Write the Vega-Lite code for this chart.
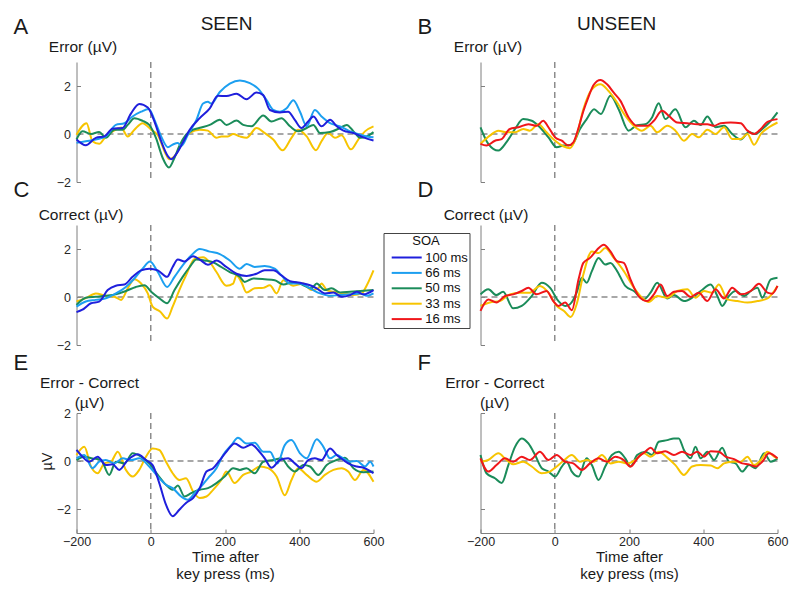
{
"$schema":"https://vega.github.io/schema/vega-lite/v6.json",
"padding":{"left":12.5,"top":14,"right":5,"bottom":5},
"config":{"font":"Liberation Sans","view":{"stroke":null},
"axis":{"domainColor":"#7f7f7f","tickColor":"#7f7f7f","labelColor":"#262626","titleColor":"#1a1a1a","labelFontSize":12.5,"titleFontSize":15.5,"titleFontWeight":"normal","grid":false,"tickSize":-4,"labelPadding":10,"labelFlush":false,"labelOverlap":false},
"legend":{"orient":"none","strokeColor":"#444444","fillColor":"white","padding":1.5,"titleFontSize":13,"titleFontWeight":"normal","titleAnchor":"middle","labelFontSize":13,"symbolType":"M-3,0H3","symbolSize":100,"symbolStrokeWidth":2,"symbolOffset":15.2,"labelOffset":12,"rowPadding":1.4,"titlePadding":3.5,"labelColor":"#111111","titleColor":"#111111"}},
"data":{"values":[
{"p":"A","s":"33 ms","t":-200,"v":-0.03},{"p":"A","s":"33 ms","t":-173,"v":0.45},{"p":"A","s":"33 ms","t":-157,"v":-0.3},{"p":"A","s":"33 ms","t":-139,"v":-0.41},{"p":"A","s":"33 ms","t":-121,"v":-0.1},{"p":"A","s":"33 ms","t":-94,"v":0.18},{"p":"A","s":"33 ms","t":-80,"v":0.27},{"p":"A","s":"33 ms","t":-62,"v":-0.1},{"p":"A","s":"33 ms","t":-44,"v":0.18},{"p":"A","s":"33 ms","t":-22,"v":0.45},{"p":"A","s":"33 ms","t":1,"v":0.18},{"p":"A","s":"33 ms","t":19,"v":-0.05},{"p":"A","s":"33 ms","t":41,"v":-0.85},{"p":"A","s":"33 ms","t":50,"v":-1.05},{"p":"A","s":"33 ms","t":68,"v":-0.85},{"p":"A","s":"33 ms","t":86,"v":-0.3},{"p":"A","s":"33 ms","t":105,"v":0.04},{"p":"A","s":"33 ms","t":132,"v":0.18},{"p":"A","s":"33 ms","t":154,"v":0.14},{"p":"A","s":"33 ms","t":177,"v":-0.16},{"p":"A","s":"33 ms","t":190,"v":-0.1},{"p":"A","s":"33 ms","t":208,"v":-0.1},{"p":"A","s":"33 ms","t":222,"v":0.0},{"p":"A","s":"33 ms","t":240,"v":-0.1},{"p":"A","s":"33 ms","t":258,"v":-0.16},{"p":"A","s":"33 ms","t":285,"v":0.25},{"p":"A","s":"33 ms","t":307,"v":0.04},{"p":"A","s":"33 ms","t":330,"v":-0.23},{"p":"A","s":"33 ms","t":355,"v":-0.68},{"p":"A","s":"33 ms","t":379,"v":-0.16},{"p":"A","s":"33 ms","t":397,"v":0.18},{"p":"A","s":"33 ms","t":420,"v":-0.1},{"p":"A","s":"33 ms","t":445,"v":-0.68},{"p":"A","s":"33 ms","t":460,"v":-0.3},{"p":"A","s":"33 ms","t":478,"v":0.04},{"p":"A","s":"33 ms","t":496,"v":-0.16},{"p":"A","s":"33 ms","t":514,"v":-0.05},{"p":"A","s":"33 ms","t":539,"v":-0.64},{"p":"A","s":"33 ms","t":559,"v":-0.23},{"p":"A","s":"33 ms","t":577,"v":0.11},{"p":"A","s":"33 ms","t":600,"v":0.32},
{"p":"A","s":"50 ms","t":-200,"v":-0.23},{"p":"A","s":"50 ms","t":-184,"v":0.11},{"p":"A","s":"50 ms","t":-161,"v":0.0},{"p":"A","s":"50 ms","t":-139,"v":0.08},{"p":"A","s":"50 ms","t":-121,"v":-0.16},{"p":"A","s":"50 ms","t":-98,"v":0.18},{"p":"A","s":"50 ms","t":-76,"v":0.18},{"p":"A","s":"50 ms","t":-62,"v":0.38},{"p":"A","s":"50 ms","t":-44,"v":0.66},{"p":"A","s":"50 ms","t":-22,"v":0.55},{"p":"A","s":"50 ms","t":-4,"v":0.38},{"p":"A","s":"50 ms","t":14,"v":-0.16},{"p":"A","s":"50 ms","t":32,"v":-0.99},{"p":"A","s":"50 ms","t":49,"v":-1.4},{"p":"A","s":"50 ms","t":64,"v":-0.99},{"p":"A","s":"50 ms","t":77,"v":-0.5},{"p":"A","s":"50 ms","t":95,"v":-0.03},{"p":"A","s":"50 ms","t":114,"v":0.18},{"p":"A","s":"50 ms","t":136,"v":0.27},{"p":"A","s":"50 ms","t":159,"v":0.38},{"p":"A","s":"50 ms","t":186,"v":0.59},{"p":"A","s":"50 ms","t":204,"v":0.38},{"p":"A","s":"50 ms","t":231,"v":0.56},{"p":"A","s":"50 ms","t":249,"v":0.38},{"p":"A","s":"50 ms","t":271,"v":0.32},{"p":"A","s":"50 ms","t":303,"v":0.77},{"p":"A","s":"50 ms","t":325,"v":0.52},{"p":"A","s":"50 ms","t":352,"v":0.66},{"p":"A","s":"50 ms","t":375,"v":0.32},{"p":"A","s":"50 ms","t":397,"v":0.11},{"p":"A","s":"50 ms","t":420,"v":0.25},{"p":"A","s":"50 ms","t":438,"v":0.38},{"p":"A","s":"50 ms","t":456,"v":0.04},{"p":"A","s":"50 ms","t":483,"v":0.08},{"p":"A","s":"50 ms","t":510,"v":0.25},{"p":"A","s":"50 ms","t":528,"v":0.38},{"p":"A","s":"50 ms","t":546,"v":0.11},{"p":"A","s":"50 ms","t":564,"v":-0.16},{"p":"A","s":"50 ms","t":582,"v":-0.1},{"p":"A","s":"50 ms","t":600,"v":0.08},
{"p":"A","s":"66 ms","t":-200,"v":-0.37},{"p":"A","s":"66 ms","t":-175,"v":-0.3},{"p":"A","s":"66 ms","t":-148,"v":-0.23},{"p":"A","s":"66 ms","t":-121,"v":-0.1},{"p":"A","s":"66 ms","t":-94,"v":0.38},{"p":"A","s":"66 ms","t":-71,"v":0.45},{"p":"A","s":"66 ms","t":-49,"v":0.73},{"p":"A","s":"66 ms","t":-26,"v":0.93},{"p":"A","s":"66 ms","t":-5,"v":1.04},{"p":"A","s":"66 ms","t":10,"v":0.59},{"p":"A","s":"66 ms","t":28,"v":-0.1},{"p":"A","s":"66 ms","t":46,"v":-0.55},{"p":"A","s":"66 ms","t":59,"v":-0.44},{"p":"A","s":"66 ms","t":73,"v":-0.37},{"p":"A","s":"66 ms","t":82,"v":-0.5},{"p":"A","s":"66 ms","t":100,"v":-0.03},{"p":"A","s":"66 ms","t":123,"v":0.59},{"p":"A","s":"66 ms","t":141,"v":1.27},{"p":"A","s":"66 ms","t":154,"v":1.34},{"p":"A","s":"66 ms","t":163,"v":1.27},{"p":"A","s":"66 ms","t":186,"v":1.75},{"p":"A","s":"66 ms","t":213,"v":2.1},{"p":"A","s":"66 ms","t":240,"v":2.23},{"p":"A","s":"66 ms","t":267,"v":2.12},{"p":"A","s":"66 ms","t":289,"v":1.89},{"p":"A","s":"66 ms","t":312,"v":1.41},{"p":"A","s":"66 ms","t":330,"v":1.0},{"p":"A","s":"66 ms","t":348,"v":0.93},{"p":"A","s":"66 ms","t":366,"v":1.07},{"p":"A","s":"66 ms","t":384,"v":1.41},{"p":"A","s":"66 ms","t":402,"v":0.93},{"p":"A","s":"66 ms","t":420,"v":0.32},{"p":"A","s":"66 ms","t":442,"v":1.0},{"p":"A","s":"66 ms","t":460,"v":0.73},{"p":"A","s":"66 ms","t":483,"v":0.45},{"p":"A","s":"66 ms","t":510,"v":0.32},{"p":"A","s":"66 ms","t":537,"v":0.11},{"p":"A","s":"66 ms","t":564,"v":-0.03},{"p":"A","s":"66 ms","t":582,"v":-0.1},{"p":"A","s":"66 ms","t":600,"v":-0.14},
{"p":"A","s":"100 ms","t":-200,"v":-0.23},{"p":"A","s":"100 ms","t":-175,"v":-0.47},{"p":"A","s":"100 ms","t":-148,"v":-0.16},{"p":"A","s":"100 ms","t":-125,"v":-0.1},{"p":"A","s":"100 ms","t":-103,"v":0.22},{"p":"A","s":"100 ms","t":-76,"v":0.25},{"p":"A","s":"100 ms","t":-53,"v":0.86},{"p":"A","s":"100 ms","t":-31,"v":1.25},{"p":"A","s":"100 ms","t":-8,"v":1.1},{"p":"A","s":"100 ms","t":10,"v":0.52},{"p":"A","s":"100 ms","t":28,"v":-0.3},{"p":"A","s":"100 ms","t":46,"v":-0.92},{"p":"A","s":"100 ms","t":55,"v":-1.05},{"p":"A","s":"100 ms","t":68,"v":-0.85},{"p":"A","s":"100 ms","t":86,"v":-0.37},{"p":"A","s":"100 ms","t":105,"v":0.18},{"p":"A","s":"100 ms","t":132,"v":0.66},{"p":"A","s":"100 ms","t":159,"v":1.07},{"p":"A","s":"100 ms","t":181,"v":1.59},{"p":"A","s":"100 ms","t":204,"v":1.58},{"p":"A","s":"100 ms","t":231,"v":1.68},{"p":"A","s":"100 ms","t":258,"v":1.45},{"p":"A","s":"100 ms","t":285,"v":1.73},{"p":"A","s":"100 ms","t":303,"v":1.62},{"p":"A","s":"100 ms","t":321,"v":1.0},{"p":"A","s":"100 ms","t":348,"v":0.9},{"p":"A","s":"100 ms","t":370,"v":0.93},{"p":"A","s":"100 ms","t":388,"v":0.59},{"p":"A","s":"100 ms","t":406,"v":0.25},{"p":"A","s":"100 ms","t":424,"v":0.52},{"p":"A","s":"100 ms","t":438,"v":0.73},{"p":"A","s":"100 ms","t":460,"v":0.32},{"p":"A","s":"100 ms","t":483,"v":0.59},{"p":"A","s":"100 ms","t":501,"v":0.32},{"p":"A","s":"100 ms","t":519,"v":0.14},{"p":"A","s":"100 ms","t":546,"v":0.04},{"p":"A","s":"100 ms","t":573,"v":-0.14},{"p":"A","s":"100 ms","t":600,"v":-0.27},
{"p":"B","s":"50 ms","t":-200,"v":0.28},{"p":"B","s":"50 ms","t":-179,"v":-0.41},{"p":"B","s":"50 ms","t":-152,"v":-0.69},{"p":"B","s":"50 ms","t":-130,"v":-0.34},{"p":"B","s":"50 ms","t":-107,"v":0.21},{"p":"B","s":"50 ms","t":-85,"v":0.62},{"p":"B","s":"50 ms","t":-62,"v":0.55},{"p":"B","s":"50 ms","t":-40,"v":0.28},{"p":"B","s":"50 ms","t":-17,"v":-0.14},{"p":"B","s":"50 ms","t":5,"v":-0.55},{"p":"B","s":"50 ms","t":23,"v":-0.48},{"p":"B","s":"50 ms","t":46,"v":-0.45},{"p":"B","s":"50 ms","t":68,"v":0.21},{"p":"B","s":"50 ms","t":86,"v":0.62},{"p":"B","s":"50 ms","t":106,"v":1.03},{"p":"B","s":"50 ms","t":124,"v":0.83},{"p":"B","s":"50 ms","t":150,"v":1.59},{"p":"B","s":"50 ms","t":172,"v":1.03},{"p":"B","s":"50 ms","t":199,"v":0.14},{"p":"B","s":"50 ms","t":222,"v":0.37},{"p":"B","s":"50 ms","t":244,"v":0.41},{"p":"B","s":"50 ms","t":262,"v":0.69},{"p":"B","s":"50 ms","t":280,"v":1.28},{"p":"B","s":"50 ms","t":298,"v":0.62},{"p":"B","s":"50 ms","t":325,"v":1.03},{"p":"B","s":"50 ms","t":352,"v":0.28},{"p":"B","s":"50 ms","t":375,"v":0.55},{"p":"B","s":"50 ms","t":393,"v":0.37},{"p":"B","s":"50 ms","t":411,"v":0.73},{"p":"B","s":"50 ms","t":433,"v":0.28},{"p":"B","s":"50 ms","t":456,"v":0.34},{"p":"B","s":"50 ms","t":478,"v":0.0},{"p":"B","s":"50 ms","t":501,"v":-0.23},{"p":"B","s":"50 ms","t":523,"v":0.07},{"p":"B","s":"50 ms","t":541,"v":0.0},{"p":"B","s":"50 ms","t":559,"v":0.21},{"p":"B","s":"50 ms","t":582,"v":0.55},{"p":"B","s":"50 ms","t":600,"v":0.9},
{"p":"B","s":"33 ms","t":-200,"v":-0.41},{"p":"B","s":"33 ms","t":-175,"v":-0.07},{"p":"B","s":"33 ms","t":-152,"v":0.14},{"p":"B","s":"33 ms","t":-130,"v":0.07},{"p":"B","s":"33 ms","t":-107,"v":0.07},{"p":"B","s":"33 ms","t":-85,"v":0.21},{"p":"B","s":"33 ms","t":-67,"v":0.14},{"p":"B","s":"33 ms","t":-44,"v":0.41},{"p":"B","s":"33 ms","t":-22,"v":0.07},{"p":"B","s":"33 ms","t":1,"v":-0.28},{"p":"B","s":"33 ms","t":23,"v":-0.51},{"p":"B","s":"33 ms","t":41,"v":-0.59},{"p":"B","s":"33 ms","t":59,"v":-0.07},{"p":"B","s":"33 ms","t":77,"v":1.03},{"p":"B","s":"33 ms","t":100,"v":1.86},{"p":"B","s":"33 ms","t":123,"v":2.07},{"p":"B","s":"33 ms","t":145,"v":1.79},{"p":"B","s":"33 ms","t":168,"v":1.31},{"p":"B","s":"33 ms","t":190,"v":0.76},{"p":"B","s":"33 ms","t":213,"v":0.34},{"p":"B","s":"33 ms","t":235,"v":0.14},{"p":"B","s":"33 ms","t":258,"v":0.34},{"p":"B","s":"33 ms","t":276,"v":0.07},{"p":"B","s":"33 ms","t":303,"v":0.34},{"p":"B","s":"33 ms","t":325,"v":0.14},{"p":"B","s":"33 ms","t":348,"v":-0.28},{"p":"B","s":"33 ms","t":370,"v":0.0},{"p":"B","s":"33 ms","t":388,"v":-0.14},{"p":"B","s":"33 ms","t":411,"v":0.18},{"p":"B","s":"33 ms","t":433,"v":0.0},{"p":"B","s":"33 ms","t":456,"v":0.28},{"p":"B","s":"33 ms","t":478,"v":-0.21},{"p":"B","s":"33 ms","t":501,"v":-0.21},{"p":"B","s":"33 ms","t":519,"v":0.0},{"p":"B","s":"33 ms","t":537,"v":-0.45},{"p":"B","s":"33 ms","t":555,"v":0.0},{"p":"B","s":"33 ms","t":577,"v":0.28},{"p":"B","s":"33 ms","t":600,"v":0.48},
{"p":"B","s":"16 ms","t":-200,"v":-0.41},{"p":"B","s":"16 ms","t":-184,"v":-0.48},{"p":"B","s":"16 ms","t":-161,"v":-0.28},{"p":"B","s":"16 ms","t":-143,"v":-0.21},{"p":"B","s":"16 ms","t":-121,"v":0.21},{"p":"B","s":"16 ms","t":-98,"v":0.28},{"p":"B","s":"16 ms","t":-71,"v":0.41},{"p":"B","s":"16 ms","t":-49,"v":0.34},{"p":"B","s":"16 ms","t":-31,"v":0.55},{"p":"B","s":"16 ms","t":-17,"v":0.28},{"p":"B","s":"16 ms","t":1,"v":-0.14},{"p":"B","s":"16 ms","t":19,"v":-0.28},{"p":"B","s":"16 ms","t":37,"v":-0.48},{"p":"B","s":"16 ms","t":50,"v":-0.35},{"p":"B","s":"16 ms","t":64,"v":0.25},{"p":"B","s":"16 ms","t":77,"v":0.95},{"p":"B","s":"16 ms","t":91,"v":1.55},{"p":"B","s":"16 ms","t":105,"v":2.05},{"p":"B","s":"16 ms","t":123,"v":2.25},{"p":"B","s":"16 ms","t":141,"v":2.07},{"p":"B","s":"16 ms","t":159,"v":1.72},{"p":"B","s":"16 ms","t":177,"v":1.38},{"p":"B","s":"16 ms","t":199,"v":0.69},{"p":"B","s":"16 ms","t":222,"v":0.34},{"p":"B","s":"16 ms","t":249,"v":0.34},{"p":"B","s":"16 ms","t":267,"v":0.55},{"p":"B","s":"16 ms","t":289,"v":0.97},{"p":"B","s":"16 ms","t":307,"v":0.76},{"p":"B","s":"16 ms","t":330,"v":0.48},{"p":"B","s":"16 ms","t":357,"v":0.45},{"p":"B","s":"16 ms","t":384,"v":0.41},{"p":"B","s":"16 ms","t":411,"v":0.41},{"p":"B","s":"16 ms","t":429,"v":0.34},{"p":"B","s":"16 ms","t":447,"v":0.45},{"p":"B","s":"16 ms","t":474,"v":0.48},{"p":"B","s":"16 ms","t":501,"v":0.45},{"p":"B","s":"16 ms","t":519,"v":0.14},{"p":"B","s":"16 ms","t":537,"v":0.0},{"p":"B","s":"16 ms","t":555,"v":0.21},{"p":"B","s":"16 ms","t":573,"v":0.51},{"p":"B","s":"16 ms","t":600,"v":0.62},
{"p":"C","s":"33 ms","t":-200,"v":-0.19},{"p":"C","s":"33 ms","t":-175,"v":-0.05},{"p":"C","s":"33 ms","t":-148,"v":0.15},{"p":"C","s":"33 ms","t":-121,"v":0.05},{"p":"C","s":"33 ms","t":-98,"v":0.01},{"p":"C","s":"33 ms","t":-80,"v":-0.12},{"p":"C","s":"33 ms","t":-62,"v":0.36},{"p":"C","s":"33 ms","t":-44,"v":0.74},{"p":"C","s":"33 ms","t":-26,"v":0.56},{"p":"C","s":"33 ms","t":-8,"v":0.15},{"p":"C","s":"33 ms","t":5,"v":-0.4},{"p":"C","s":"33 ms","t":25,"v":-0.6},{"p":"C","s":"33 ms","t":44,"v":-0.9},{"p":"C","s":"33 ms","t":59,"v":-0.4},{"p":"C","s":"33 ms","t":77,"v":0.29},{"p":"C","s":"33 ms","t":95,"v":0.9},{"p":"C","s":"33 ms","t":118,"v":1.59},{"p":"C","s":"33 ms","t":141,"v":1.66},{"p":"C","s":"33 ms","t":159,"v":1.45},{"p":"C","s":"33 ms","t":177,"v":1.04},{"p":"C","s":"33 ms","t":204,"v":0.47},{"p":"C","s":"33 ms","t":222,"v":0.56},{"p":"C","s":"33 ms","t":231,"v":0.9},{"p":"C","s":"33 ms","t":244,"v":0.63},{"p":"C","s":"33 ms","t":258,"v":0.19},{"p":"C","s":"33 ms","t":280,"v":0.36},{"p":"C","s":"33 ms","t":303,"v":0.38},{"p":"C","s":"33 ms","t":321,"v":0.49},{"p":"C","s":"33 ms","t":339,"v":0.15},{"p":"C","s":"33 ms","t":357,"v":0.7},{"p":"C","s":"33 ms","t":384,"v":0.47},{"p":"C","s":"33 ms","t":411,"v":0.56},{"p":"C","s":"33 ms","t":433,"v":0.29},{"p":"C","s":"33 ms","t":451,"v":0.36},{"p":"C","s":"33 ms","t":460,"v":0.56},{"p":"C","s":"33 ms","t":474,"v":0.29},{"p":"C","s":"33 ms","t":492,"v":0.22},{"p":"C","s":"33 ms","t":519,"v":0.15},{"p":"C","s":"33 ms","t":546,"v":0.08},{"p":"C","s":"33 ms","t":568,"v":0.15},{"p":"C","s":"33 ms","t":582,"v":0.49},{"p":"C","s":"33 ms","t":600,"v":1.11},
{"p":"C","s":"50 ms","t":-200,"v":-0.33},{"p":"C","s":"50 ms","t":-175,"v":-0.03},{"p":"C","s":"50 ms","t":-148,"v":0.01},{"p":"C","s":"50 ms","t":-121,"v":0.05},{"p":"C","s":"50 ms","t":-94,"v":0.11},{"p":"C","s":"50 ms","t":-67,"v":0.25},{"p":"C","s":"50 ms","t":-40,"v":0.42},{"p":"C","s":"50 ms","t":-17,"v":0.49},{"p":"C","s":"50 ms","t":1,"v":0.22},{"p":"C","s":"50 ms","t":23,"v":-0.05},{"p":"C","s":"50 ms","t":44,"v":-0.26},{"p":"C","s":"50 ms","t":64,"v":0.29},{"p":"C","s":"50 ms","t":86,"v":0.84},{"p":"C","s":"50 ms","t":105,"v":1.25},{"p":"C","s":"50 ms","t":123,"v":1.56},{"p":"C","s":"50 ms","t":145,"v":1.52},{"p":"C","s":"50 ms","t":168,"v":1.45},{"p":"C","s":"50 ms","t":190,"v":1.25},{"p":"C","s":"50 ms","t":213,"v":1.04},{"p":"C","s":"50 ms","t":240,"v":0.84},{"p":"C","s":"50 ms","t":253,"v":0.63},{"p":"C","s":"50 ms","t":276,"v":0.77},{"p":"C","s":"50 ms","t":307,"v":0.74},{"p":"C","s":"50 ms","t":334,"v":0.7},{"p":"C","s":"50 ms","t":357,"v":0.52},{"p":"C","s":"50 ms","t":384,"v":0.63},{"p":"C","s":"50 ms","t":411,"v":0.49},{"p":"C","s":"50 ms","t":433,"v":0.36},{"p":"C","s":"50 ms","t":447,"v":0.56},{"p":"C","s":"50 ms","t":469,"v":0.29},{"p":"C","s":"50 ms","t":487,"v":0.36},{"p":"C","s":"50 ms","t":510,"v":0.19},{"p":"C","s":"50 ms","t":537,"v":0.22},{"p":"C","s":"50 ms","t":564,"v":0.25},{"p":"C","s":"50 ms","t":600,"v":0.29},
{"p":"C","s":"66 ms","t":-200,"v":-0.4},{"p":"C","s":"66 ms","t":-175,"v":-0.19},{"p":"C","s":"66 ms","t":-148,"v":-0.12},{"p":"C","s":"66 ms","t":-121,"v":-0.05},{"p":"C","s":"66 ms","t":-94,"v":0.15},{"p":"C","s":"66 ms","t":-67,"v":0.42},{"p":"C","s":"66 ms","t":-44,"v":0.77},{"p":"C","s":"66 ms","t":-22,"v":1.18},{"p":"C","s":"66 ms","t":-2,"v":1.48},{"p":"C","s":"66 ms","t":19,"v":1.04},{"p":"C","s":"66 ms","t":44,"v":0.42},{"p":"C","s":"66 ms","t":64,"v":0.84},{"p":"C","s":"66 ms","t":86,"v":1.32},{"p":"C","s":"66 ms","t":109,"v":1.73},{"p":"C","s":"66 ms","t":132,"v":2.0},{"p":"C","s":"66 ms","t":159,"v":1.89},{"p":"C","s":"66 ms","t":186,"v":1.79},{"p":"C","s":"66 ms","t":213,"v":1.52},{"p":"C","s":"66 ms","t":240,"v":1.18},{"p":"C","s":"66 ms","t":258,"v":1.38},{"p":"C","s":"66 ms","t":280,"v":1.25},{"p":"C","s":"66 ms","t":307,"v":1.29},{"p":"C","s":"66 ms","t":334,"v":1.18},{"p":"C","s":"66 ms","t":352,"v":0.9},{"p":"C","s":"66 ms","t":375,"v":0.56},{"p":"C","s":"66 ms","t":402,"v":0.56},{"p":"C","s":"66 ms","t":429,"v":0.36},{"p":"C","s":"66 ms","t":456,"v":0.15},{"p":"C","s":"66 ms","t":483,"v":0.05},{"p":"C","s":"66 ms","t":510,"v":0.08},{"p":"C","s":"66 ms","t":537,"v":0.11},{"p":"C","s":"66 ms","t":564,"v":0.15},{"p":"C","s":"66 ms","t":582,"v":0.05},{"p":"C","s":"66 ms","t":600,"v":0.15},
{"p":"C","s":"100 ms","t":-200,"v":-0.63},{"p":"C","s":"100 ms","t":-184,"v":-0.53},{"p":"C","s":"100 ms","t":-161,"v":-0.26},{"p":"C","s":"100 ms","t":-139,"v":-0.19},{"p":"C","s":"100 ms","t":-116,"v":0.29},{"p":"C","s":"100 ms","t":-94,"v":0.47},{"p":"C","s":"100 ms","t":-71,"v":0.52},{"p":"C","s":"100 ms","t":-49,"v":0.84},{"p":"C","s":"100 ms","t":-26,"v":1.11},{"p":"C","s":"100 ms","t":-4,"v":1.18},{"p":"C","s":"100 ms","t":19,"v":1.11},{"p":"C","s":"100 ms","t":44,"v":0.84},{"p":"C","s":"100 ms","t":59,"v":1.25},{"p":"C","s":"100 ms","t":73,"v":1.56},{"p":"C","s":"100 ms","t":91,"v":1.48},{"p":"C","s":"100 ms","t":114,"v":1.7},{"p":"C","s":"100 ms","t":136,"v":1.52},{"p":"C","s":"100 ms","t":154,"v":1.34},{"p":"C","s":"100 ms","t":177,"v":1.52},{"p":"C","s":"100 ms","t":204,"v":1.25},{"p":"C","s":"100 ms","t":231,"v":0.97},{"p":"C","s":"100 ms","t":258,"v":0.88},{"p":"C","s":"100 ms","t":285,"v":0.97},{"p":"C","s":"100 ms","t":307,"v":1.11},{"p":"C","s":"100 ms","t":330,"v":1.11},{"p":"C","s":"100 ms","t":352,"v":0.9},{"p":"C","s":"100 ms","t":375,"v":0.66},{"p":"C","s":"100 ms","t":402,"v":0.59},{"p":"C","s":"100 ms","t":429,"v":0.49},{"p":"C","s":"100 ms","t":447,"v":0.36},{"p":"C","s":"100 ms","t":469,"v":0.15},{"p":"C","s":"100 ms","t":492,"v":0.19},{"p":"C","s":"100 ms","t":514,"v":0.01},{"p":"C","s":"100 ms","t":537,"v":0.08},{"p":"C","s":"100 ms","t":555,"v":0.22},{"p":"C","s":"100 ms","t":573,"v":0.11},{"p":"C","s":"100 ms","t":600,"v":0.29},
{"p":"D","s":"50 ms","t":-200,"v":0.11},{"p":"D","s":"50 ms","t":-179,"v":0.32},{"p":"D","s":"50 ms","t":-157,"v":0.08},{"p":"D","s":"50 ms","t":-139,"v":0.22},{"p":"D","s":"50 ms","t":-112,"v":-0.47},{"p":"D","s":"50 ms","t":-89,"v":-0.37},{"p":"D","s":"50 ms","t":-62,"v":0.04},{"p":"D","s":"50 ms","t":-35,"v":0.59},{"p":"D","s":"50 ms","t":-13,"v":0.39},{"p":"D","s":"50 ms","t":10,"v":-0.17},{"p":"D","s":"50 ms","t":28,"v":-0.37},{"p":"D","s":"50 ms","t":41,"v":-0.3},{"p":"D","s":"50 ms","t":59,"v":0.18},{"p":"D","s":"50 ms","t":73,"v":0.8},{"p":"D","s":"50 ms","t":86,"v":0.59},{"p":"D","s":"50 ms","t":100,"v":1.08},{"p":"D","s":"50 ms","t":118,"v":1.63},{"p":"D","s":"50 ms","t":136,"v":1.35},{"p":"D","s":"50 ms","t":150,"v":1.42},{"p":"D","s":"50 ms","t":168,"v":1.08},{"p":"D","s":"50 ms","t":190,"v":0.46},{"p":"D","s":"50 ms","t":213,"v":0.25},{"p":"D","s":"50 ms","t":240,"v":-0.1},{"p":"D","s":"50 ms","t":258,"v":0.18},{"p":"D","s":"50 ms","t":276,"v":0.59},{"p":"D","s":"50 ms","t":303,"v":-0.06},{"p":"D","s":"50 ms","t":321,"v":0.08},{"p":"D","s":"50 ms","t":348,"v":-0.17},{"p":"D","s":"50 ms","t":370,"v":-0.03},{"p":"D","s":"50 ms","t":393,"v":0.25},{"p":"D","s":"50 ms","t":420,"v":0.52},{"p":"D","s":"50 ms","t":438,"v":0.04},{"p":"D","s":"50 ms","t":451,"v":-0.37},{"p":"D","s":"50 ms","t":469,"v":0.04},{"p":"D","s":"50 ms","t":487,"v":0.25},{"p":"D","s":"50 ms","t":510,"v":0.04},{"p":"D","s":"50 ms","t":528,"v":0.25},{"p":"D","s":"50 ms","t":546,"v":0.39},{"p":"D","s":"50 ms","t":559,"v":-0.03},{"p":"D","s":"50 ms","t":582,"v":0.73},{"p":"D","s":"50 ms","t":600,"v":0.8},
{"p":"D","s":"33 ms","t":-200,"v":-0.37},{"p":"D","s":"33 ms","t":-175,"v":-0.23},{"p":"D","s":"33 ms","t":-148,"v":-0.17},{"p":"D","s":"33 ms","t":-121,"v":0.11},{"p":"D","s":"33 ms","t":-94,"v":0.18},{"p":"D","s":"33 ms","t":-67,"v":0.18},{"p":"D","s":"33 ms","t":-40,"v":0.46},{"p":"D","s":"33 ms","t":-17,"v":0.18},{"p":"D","s":"33 ms","t":5,"v":-0.37},{"p":"D","s":"33 ms","t":25,"v":-0.58},{"p":"D","s":"33 ms","t":43,"v":-0.83},{"p":"D","s":"33 ms","t":59,"v":-0.3},{"p":"D","s":"33 ms","t":77,"v":0.94},{"p":"D","s":"33 ms","t":100,"v":1.9},{"p":"D","s":"33 ms","t":118,"v":1.83},{"p":"D","s":"33 ms","t":136,"v":2.04},{"p":"D","s":"33 ms","t":159,"v":1.63},{"p":"D","s":"33 ms","t":186,"v":1.08},{"p":"D","s":"33 ms","t":213,"v":0.39},{"p":"D","s":"33 ms","t":235,"v":-0.03},{"p":"D","s":"33 ms","t":253,"v":-0.21},{"p":"D","s":"33 ms","t":276,"v":0.04},{"p":"D","s":"33 ms","t":303,"v":-0.03},{"p":"D","s":"33 ms","t":330,"v":0.25},{"p":"D","s":"33 ms","t":357,"v":0.32},{"p":"D","s":"33 ms","t":379,"v":-0.03},{"p":"D","s":"33 ms","t":402,"v":0.25},{"p":"D","s":"33 ms","t":424,"v":0.18},{"p":"D","s":"33 ms","t":442,"v":0.52},{"p":"D","s":"33 ms","t":465,"v":-0.1},{"p":"D","s":"33 ms","t":492,"v":-0.17},{"p":"D","s":"33 ms","t":519,"v":-0.23},{"p":"D","s":"33 ms","t":546,"v":-0.17},{"p":"D","s":"33 ms","t":573,"v":-0.06},{"p":"D","s":"33 ms","t":600,"v":0.46},
{"p":"D","s":"16 ms","t":-200,"v":-0.58},{"p":"D","s":"16 ms","t":-179,"v":-0.1},{"p":"D","s":"16 ms","t":-157,"v":-0.23},{"p":"D","s":"16 ms","t":-134,"v":0.04},{"p":"D","s":"16 ms","t":-112,"v":0.11},{"p":"D","s":"16 ms","t":-89,"v":0.25},{"p":"D","s":"16 ms","t":-71,"v":0.39},{"p":"D","s":"16 ms","t":-49,"v":0.11},{"p":"D","s":"16 ms","t":-22,"v":0.25},{"p":"D","s":"16 ms","t":-4,"v":-0.17},{"p":"D","s":"16 ms","t":10,"v":-0.37},{"p":"D","s":"16 ms","t":28,"v":-0.23},{"p":"D","s":"16 ms","t":46,"v":-0.55},{"p":"D","s":"16 ms","t":64,"v":0.73},{"p":"D","s":"16 ms","t":77,"v":1.42},{"p":"D","s":"16 ms","t":95,"v":1.63},{"p":"D","s":"16 ms","t":114,"v":1.97},{"p":"D","s":"16 ms","t":132,"v":2.18},{"p":"D","s":"16 ms","t":150,"v":1.9},{"p":"D","s":"16 ms","t":168,"v":1.49},{"p":"D","s":"16 ms","t":186,"v":1.42},{"p":"D","s":"16 ms","t":204,"v":0.73},{"p":"D","s":"16 ms","t":226,"v":0.04},{"p":"D","s":"16 ms","t":249,"v":-0.17},{"p":"D","s":"16 ms","t":267,"v":0.11},{"p":"D","s":"16 ms","t":285,"v":0.52},{"p":"D","s":"16 ms","t":303,"v":0.04},{"p":"D","s":"16 ms","t":321,"v":0.22},{"p":"D","s":"16 ms","t":343,"v":0.25},{"p":"D","s":"16 ms","t":366,"v":0.0},{"p":"D","s":"16 ms","t":388,"v":0.18},{"p":"D","s":"16 ms","t":411,"v":-0.17},{"p":"D","s":"16 ms","t":433,"v":0.32},{"p":"D","s":"16 ms","t":456,"v":-0.06},{"p":"D","s":"16 ms","t":478,"v":0.39},{"p":"D","s":"16 ms","t":501,"v":0.11},{"p":"D","s":"16 ms","t":528,"v":0.25},{"p":"D","s":"16 ms","t":550,"v":0.55},{"p":"D","s":"16 ms","t":573,"v":0.18},{"p":"D","s":"16 ms","t":586,"v":0.14},{"p":"D","s":"16 ms","t":600,"v":0.46},
{"p":"E","s":"33 ms","t":-200,"v":0.25},{"p":"E","s":"33 ms","t":-179,"v":0.59},{"p":"E","s":"33 ms","t":-161,"v":-0.23},{"p":"E","s":"33 ms","t":-143,"v":-0.51},{"p":"E","s":"33 ms","t":-125,"v":-0.1},{"p":"E","s":"33 ms","t":-107,"v":-0.03},{"p":"E","s":"33 ms","t":-89,"v":0.39},{"p":"E","s":"33 ms","t":-67,"v":-0.37},{"p":"E","s":"33 ms","t":-49,"v":-0.65},{"p":"E","s":"33 ms","t":-31,"v":-0.37},{"p":"E","s":"33 ms","t":-13,"v":0.18},{"p":"E","s":"33 ms","t":5,"v":0.52},{"p":"E","s":"33 ms","t":23,"v":0.46},{"p":"E","s":"33 ms","t":41,"v":-0.03},{"p":"E","s":"33 ms","t":59,"v":-0.51},{"p":"E","s":"33 ms","t":77,"v":-0.79},{"p":"E","s":"33 ms","t":95,"v":-0.72},{"p":"E","s":"33 ms","t":114,"v":-1.27},{"p":"E","s":"33 ms","t":132,"v":-1.54},{"p":"E","s":"33 ms","t":150,"v":-1.48},{"p":"E","s":"33 ms","t":168,"v":-1.2},{"p":"E","s":"33 ms","t":190,"v":-0.79},{"p":"E","s":"33 ms","t":204,"v":-0.44},{"p":"E","s":"33 ms","t":226,"v":-0.92},{"p":"E","s":"33 ms","t":249,"v":-0.58},{"p":"E","s":"33 ms","t":271,"v":-0.44},{"p":"E","s":"33 ms","t":294,"v":-0.23},{"p":"E","s":"33 ms","t":316,"v":-0.3},{"p":"E","s":"33 ms","t":339,"v":-0.65},{"p":"E","s":"33 ms","t":361,"v":-1.43},{"p":"E","s":"33 ms","t":379,"v":-0.79},{"p":"E","s":"33 ms","t":397,"v":-0.3},{"p":"E","s":"33 ms","t":420,"v":-0.58},{"p":"E","s":"33 ms","t":447,"v":-0.86},{"p":"E","s":"33 ms","t":469,"v":-0.58},{"p":"E","s":"33 ms","t":492,"v":-0.37},{"p":"E","s":"33 ms","t":514,"v":-0.3},{"p":"E","s":"33 ms","t":532,"v":-0.44},{"p":"E","s":"33 ms","t":550,"v":-0.79},{"p":"E","s":"33 ms","t":573,"v":-0.37},{"p":"E","s":"33 ms","t":600,"v":-0.86},
{"p":"E","s":"50 ms","t":-200,"v":0.04},{"p":"E","s":"50 ms","t":-179,"v":0.18},{"p":"E","s":"50 ms","t":-157,"v":0.11},{"p":"E","s":"50 ms","t":-134,"v":0.04},{"p":"E","s":"50 ms","t":-112,"v":-0.58},{"p":"E","s":"50 ms","t":-94,"v":-0.03},{"p":"E","s":"50 ms","t":-71,"v":-0.1},{"p":"E","s":"50 ms","t":-49,"v":0.32},{"p":"E","s":"50 ms","t":-26,"v":0.18},{"p":"E","s":"50 ms","t":-4,"v":-0.1},{"p":"E","s":"50 ms","t":19,"v":-0.58},{"p":"E","s":"50 ms","t":41,"v":-0.99},{"p":"E","s":"50 ms","t":59,"v":-1.2},{"p":"E","s":"50 ms","t":73,"v":-1.02},{"p":"E","s":"50 ms","t":91,"v":-1.48},{"p":"E","s":"50 ms","t":109,"v":-1.34},{"p":"E","s":"50 ms","t":132,"v":-1.2},{"p":"E","s":"50 ms","t":154,"v":-1.13},{"p":"E","s":"50 ms","t":177,"v":-0.92},{"p":"E","s":"50 ms","t":199,"v":-0.65},{"p":"E","s":"50 ms","t":222,"v":-0.3},{"p":"E","s":"50 ms","t":240,"v":-0.37},{"p":"E","s":"50 ms","t":258,"v":-0.3},{"p":"E","s":"50 ms","t":280,"v":-0.51},{"p":"E","s":"50 ms","t":303,"v":-0.03},{"p":"E","s":"50 ms","t":330,"v":0.04},{"p":"E","s":"50 ms","t":352,"v":0.11},{"p":"E","s":"50 ms","t":370,"v":-0.23},{"p":"E","s":"50 ms","t":388,"v":-0.44},{"p":"E","s":"50 ms","t":411,"v":-0.17},{"p":"E","s":"50 ms","t":429,"v":-0.23},{"p":"E","s":"50 ms","t":451,"v":-0.58},{"p":"E","s":"50 ms","t":474,"v":-0.17},{"p":"E","s":"50 ms","t":501,"v":0.04},{"p":"E","s":"50 ms","t":523,"v":0.14},{"p":"E","s":"50 ms","t":546,"v":-0.3},{"p":"E","s":"50 ms","t":573,"v":-0.47},{"p":"E","s":"50 ms","t":600,"v":-0.44},
{"p":"E","s":"66 ms","t":-200,"v":0.11},{"p":"E","s":"66 ms","t":-179,"v":0.25},{"p":"E","s":"66 ms","t":-157,"v":-0.3},{"p":"E","s":"66 ms","t":-139,"v":-0.03},{"p":"E","s":"66 ms","t":-121,"v":0.04},{"p":"E","s":"66 ms","t":-98,"v":-0.1},{"p":"E","s":"66 ms","t":-76,"v":0.11},{"p":"E","s":"66 ms","t":-53,"v":0.04},{"p":"E","s":"66 ms","t":-31,"v":0.11},{"p":"E","s":"66 ms","t":-4,"v":-0.23},{"p":"E","s":"66 ms","t":19,"v":-0.65},{"p":"E","s":"66 ms","t":41,"v":-0.99},{"p":"E","s":"66 ms","t":59,"v":-1.13},{"p":"E","s":"66 ms","t":82,"v":-1.48},{"p":"E","s":"66 ms","t":100,"v":-1.61},{"p":"E","s":"66 ms","t":118,"v":-1.34},{"p":"E","s":"66 ms","t":136,"v":-1.06},{"p":"E","s":"66 ms","t":154,"v":-0.72},{"p":"E","s":"66 ms","t":177,"v":-0.3},{"p":"E","s":"66 ms","t":195,"v":0.25},{"p":"E","s":"66 ms","t":217,"v":0.66},{"p":"E","s":"66 ms","t":235,"v":0.97},{"p":"E","s":"66 ms","t":258,"v":0.73},{"p":"E","s":"66 ms","t":280,"v":0.76},{"p":"E","s":"66 ms","t":303,"v":0.39},{"p":"E","s":"66 ms","t":321,"v":0.39},{"p":"E","s":"66 ms","t":341,"v":-0.1},{"p":"E","s":"66 ms","t":361,"v":0.66},{"p":"E","s":"66 ms","t":379,"v":0.87},{"p":"E","s":"66 ms","t":402,"v":0.32},{"p":"E","s":"66 ms","t":420,"v":0.11},{"p":"E","s":"66 ms","t":447,"v":0.91},{"p":"E","s":"66 ms","t":465,"v":0.59},{"p":"E","s":"66 ms","t":483,"v":0.11},{"p":"E","s":"66 ms","t":501,"v":0.25},{"p":"E","s":"66 ms","t":519,"v":0.11},{"p":"E","s":"66 ms","t":537,"v":-0.03},{"p":"E","s":"66 ms","t":555,"v":0.0},{"p":"E","s":"66 ms","t":577,"v":-0.23},{"p":"E","s":"66 ms","t":591,"v":-0.03},{"p":"E","s":"66 ms","t":600,"v":-0.23},
{"p":"E","s":"100 ms","t":-200,"v":0.46},{"p":"E","s":"100 ms","t":-184,"v":0.18},{"p":"E","s":"100 ms","t":-166,"v":-0.03},{"p":"E","s":"100 ms","t":-143,"v":0.18},{"p":"E","s":"100 ms","t":-121,"v":-0.17},{"p":"E","s":"100 ms","t":-103,"v":-0.14},{"p":"E","s":"100 ms","t":-85,"v":-0.37},{"p":"E","s":"100 ms","t":-62,"v":0.04},{"p":"E","s":"100 ms","t":-35,"v":0.28},{"p":"E","s":"100 ms","t":-13,"v":0.04},{"p":"E","s":"100 ms","t":5,"v":-0.17},{"p":"E","s":"100 ms","t":23,"v":-0.92},{"p":"E","s":"100 ms","t":41,"v":-1.82},{"p":"E","s":"100 ms","t":59,"v":-2.3},{"p":"E","s":"100 ms","t":77,"v":-2.03},{"p":"E","s":"100 ms","t":95,"v":-1.75},{"p":"E","s":"100 ms","t":114,"v":-1.54},{"p":"E","s":"100 ms","t":132,"v":-1.13},{"p":"E","s":"100 ms","t":150,"v":-0.44},{"p":"E","s":"100 ms","t":168,"v":-0.3},{"p":"E","s":"100 ms","t":186,"v":0.04},{"p":"E","s":"100 ms","t":204,"v":0.39},{"p":"E","s":"100 ms","t":226,"v":0.73},{"p":"E","s":"100 ms","t":249,"v":0.55},{"p":"E","s":"100 ms","t":271,"v":0.69},{"p":"E","s":"100 ms","t":289,"v":0.46},{"p":"E","s":"100 ms","t":307,"v":0.11},{"p":"E","s":"100 ms","t":325,"v":-0.28},{"p":"E","s":"100 ms","t":348,"v":0.04},{"p":"E","s":"100 ms","t":370,"v":0.11},{"p":"E","s":"100 ms","t":388,"v":-0.1},{"p":"E","s":"100 ms","t":406,"v":-0.3},{"p":"E","s":"100 ms","t":424,"v":0.04},{"p":"E","s":"100 ms","t":442,"v":0.11},{"p":"E","s":"100 ms","t":460,"v":0.04},{"p":"E","s":"100 ms","t":483,"v":0.52},{"p":"E","s":"100 ms","t":501,"v":0.25},{"p":"E","s":"100 ms","t":519,"v":0.04},{"p":"E","s":"100 ms","t":537,"v":-0.14},{"p":"E","s":"100 ms","t":555,"v":-0.23},{"p":"E","s":"100 ms","t":573,"v":-0.28},{"p":"E","s":"100 ms","t":600,"v":-0.51},
{"p":"F","s":"50 ms","t":-200,"v":0.25},{"p":"F","s":"50 ms","t":-184,"v":-0.51},{"p":"F","s":"50 ms","t":-161,"v":-0.72},{"p":"F","s":"50 ms","t":-143,"v":-0.92},{"p":"F","s":"50 ms","t":-125,"v":-0.17},{"p":"F","s":"50 ms","t":-107,"v":0.59},{"p":"F","s":"50 ms","t":-89,"v":0.94},{"p":"F","s":"50 ms","t":-71,"v":0.73},{"p":"F","s":"50 ms","t":-53,"v":0.25},{"p":"F","s":"50 ms","t":-35,"v":-0.3},{"p":"F","s":"50 ms","t":-17,"v":-0.44},{"p":"F","s":"50 ms","t":1,"v":-0.65},{"p":"F","s":"50 ms","t":19,"v":-0.23},{"p":"F","s":"50 ms","t":32,"v":-0.03},{"p":"F","s":"50 ms","t":46,"v":-0.44},{"p":"F","s":"50 ms","t":64,"v":-0.65},{"p":"F","s":"50 ms","t":86,"v":0.11},{"p":"F","s":"50 ms","t":100,"v":-0.17},{"p":"F","s":"50 ms","t":118,"v":-0.79},{"p":"F","s":"50 ms","t":136,"v":-0.23},{"p":"F","s":"50 ms","t":154,"v":0.25},{"p":"F","s":"50 ms","t":172,"v":0.39},{"p":"F","s":"50 ms","t":190,"v":0.11},{"p":"F","s":"50 ms","t":204,"v":-0.23},{"p":"F","s":"50 ms","t":222,"v":0.25},{"p":"F","s":"50 ms","t":244,"v":0.39},{"p":"F","s":"50 ms","t":262,"v":0.25},{"p":"F","s":"50 ms","t":280,"v":0.8},{"p":"F","s":"50 ms","t":303,"v":0.87},{"p":"F","s":"50 ms","t":321,"v":0.94},{"p":"F","s":"50 ms","t":334,"v":0.94},{"p":"F","s":"50 ms","t":348,"v":0.46},{"p":"F","s":"50 ms","t":366,"v":0.11},{"p":"F","s":"50 ms","t":379,"v":0.59},{"p":"F","s":"50 ms","t":393,"v":0.11},{"p":"F","s":"50 ms","t":411,"v":0.39},{"p":"F","s":"50 ms","t":429,"v":0.04},{"p":"F","s":"50 ms","t":451,"v":0.55},{"p":"F","s":"50 ms","t":469,"v":-0.03},{"p":"F","s":"50 ms","t":487,"v":-0.1},{"p":"F","s":"50 ms","t":505,"v":-0.44},{"p":"F","s":"50 ms","t":523,"v":-0.17},{"p":"F","s":"50 ms","t":541,"v":-0.3},{"p":"F","s":"50 ms","t":564,"v":0.32},{"p":"F","s":"50 ms","t":582,"v":-0.03},{"p":"F","s":"50 ms","t":600,"v":0.11},
{"p":"F","s":"33 ms","t":-200,"v":-0.03},{"p":"F","s":"33 ms","t":-179,"v":0.04},{"p":"F","s":"33 ms","t":-152,"v":0.32},{"p":"F","s":"33 ms","t":-130,"v":0.04},{"p":"F","s":"33 ms","t":-112,"v":-0.14},{"p":"F","s":"33 ms","t":-85,"v":-0.03},{"p":"F","s":"33 ms","t":-62,"v":-0.23},{"p":"F","s":"33 ms","t":-35,"v":-0.51},{"p":"F","s":"33 ms","t":-13,"v":-0.44},{"p":"F","s":"33 ms","t":1,"v":-0.28},{"p":"F","s":"33 ms","t":23,"v":0.0},{"p":"F","s":"33 ms","t":46,"v":0.25},{"p":"F","s":"33 ms","t":68,"v":-0.03},{"p":"F","s":"33 ms","t":86,"v":0.04},{"p":"F","s":"33 ms","t":105,"v":-0.03},{"p":"F","s":"33 ms","t":127,"v":0.25},{"p":"F","s":"33 ms","t":150,"v":-0.1},{"p":"F","s":"33 ms","t":172,"v":-0.03},{"p":"F","s":"33 ms","t":195,"v":-0.1},{"p":"F","s":"33 ms","t":217,"v":0.04},{"p":"F","s":"33 ms","t":240,"v":0.32},{"p":"F","s":"33 ms","t":258,"v":0.18},{"p":"F","s":"33 ms","t":280,"v":0.39},{"p":"F","s":"33 ms","t":303,"v":0.14},{"p":"F","s":"33 ms","t":325,"v":-0.17},{"p":"F","s":"33 ms","t":348,"v":-0.58},{"p":"F","s":"33 ms","t":370,"v":-0.23},{"p":"F","s":"33 ms","t":393,"v":-0.17},{"p":"F","s":"33 ms","t":420,"v":-0.19},{"p":"F","s":"33 ms","t":438,"v":-0.3},{"p":"F","s":"33 ms","t":456,"v":-0.1},{"p":"F","s":"33 ms","t":478,"v":-0.03},{"p":"F","s":"33 ms","t":501,"v":-0.03},{"p":"F","s":"33 ms","t":519,"v":0.18},{"p":"F","s":"33 ms","t":537,"v":-0.17},{"p":"F","s":"33 ms","t":555,"v":0.04},{"p":"F","s":"33 ms","t":573,"v":0.39},{"p":"F","s":"33 ms","t":591,"v":0.18},{"p":"F","s":"33 ms","t":600,"v":0.11},
{"p":"F","s":"16 ms","t":-200,"v":0.11},{"p":"F","s":"16 ms","t":-179,"v":-0.44},{"p":"F","s":"16 ms","t":-157,"v":-0.17},{"p":"F","s":"16 ms","t":-134,"v":0.11},{"p":"F","s":"16 ms","t":-112,"v":-0.03},{"p":"F","s":"16 ms","t":-89,"v":0.18},{"p":"F","s":"16 ms","t":-67,"v":0.04},{"p":"F","s":"16 ms","t":-40,"v":0.39},{"p":"F","s":"16 ms","t":-17,"v":0.04},{"p":"F","s":"16 ms","t":5,"v":0.25},{"p":"F","s":"16 ms","t":28,"v":-0.03},{"p":"F","s":"16 ms","t":50,"v":-0.1},{"p":"F","s":"16 ms","t":73,"v":-0.37},{"p":"F","s":"16 ms","t":95,"v":-0.1},{"p":"F","s":"16 ms","t":118,"v":0.11},{"p":"F","s":"16 ms","t":141,"v":-0.03},{"p":"F","s":"16 ms","t":163,"v":0.18},{"p":"F","s":"16 ms","t":186,"v":0.04},{"p":"F","s":"16 ms","t":204,"v":-0.23},{"p":"F","s":"16 ms","t":226,"v":0.18},{"p":"F","s":"16 ms","t":244,"v":0.39},{"p":"F","s":"16 ms","t":258,"v":0.55},{"p":"F","s":"16 ms","t":276,"v":0.32},{"p":"F","s":"16 ms","t":298,"v":0.41},{"p":"F","s":"16 ms","t":321,"v":0.25},{"p":"F","s":"16 ms","t":343,"v":0.39},{"p":"F","s":"16 ms","t":366,"v":0.25},{"p":"F","s":"16 ms","t":384,"v":0.39},{"p":"F","s":"16 ms","t":402,"v":0.18},{"p":"F","s":"16 ms","t":420,"v":0.41},{"p":"F","s":"16 ms","t":442,"v":0.39},{"p":"F","s":"16 ms","t":460,"v":0.18},{"p":"F","s":"16 ms","t":483,"v":0.08},{"p":"F","s":"16 ms","t":505,"v":-0.1},{"p":"F","s":"16 ms","t":523,"v":-0.14},{"p":"F","s":"16 ms","t":541,"v":-0.23},{"p":"F","s":"16 ms","t":559,"v":-0.03},{"p":"F","s":"16 ms","t":577,"v":0.32},{"p":"F","s":"16 ms","t":600,"v":0.11}
]},
"spacing":-1,
"vconcat":[
{"spacing":-11,"vconcat":[
 {"hconcat":[
  {"width":297,"height":120,"resolve":{"scale":{"x":"independent","y":"independent"}},
   "layer":[
    {"data":{"values":[{}]},"mark":{"type":"rule","strokeDash":[6,4],"color":"#8c8c8c","strokeWidth":1.5},"encoding":{"y":{"datum":0,"type":"quantitative","scale":{"domain":[-2,3],"nice":false,"zero":false},"axis":{"orient":"right","domain":false,"ticks":false,"labels":false,"title":"SEEN","titleFontSize":19,"titleAngle":0,"titleAlign":"center","titleBaseline":"alphabetic","titleX":-147.5,"titleY":-32.7}}}},
    {"data":{"values":[{}]},"mark":{"type":"rule","strokeDash":[6,4],"color":"#8c8c8c","strokeWidth":1.5},"encoding":{"x":{"datum":0,"type":"quantitative","scale":{"domain":[-200,600],"nice":false,"zero":false},"axis":{"orient":"top","domain":false,"ticks":false,"labels":false,"title":"A","titleFontSize":22,"titleAngle":0,"titleAlign":"left","titleBaseline":"alphabetic","titleX":-63.5,"titleY":-28.7}}}},
    {"transform":[{"filter":"datum.p==='A'"}],"mark":{"type":"line","strokeWidth":2,"interpolate":"monotone"},
     "encoding":{"x":{"field":"t","type":"quantitative","scale":{"domain":[-200,600],"nice":false,"zero":false},"axis":null},
      "y":{"field":"v","type":"quantitative","scale":{"domain":[-2,3],"nice":false,"zero":false},"axis":{"values":[-2,0,2],"title":"Error (µV)","titleAngle":0,"titleAlign":"center","titleBaseline":"alphabetic","titleX":6,"titleY":-11}},
      "color":{"field":"s","type":"nominal","title":"SOA","scale":{"domain":["100 ms","66 ms","50 ms","33 ms","16 ms"],"range":["#1f1fdc","#1c9ff0","#1b8c5a","#f7c400","#f0161a"]},"legend":{"legendX":307,"legendY":171}}}}
   ]},
  {"width":297,"height":120,"resolve":{"scale":{"x":"independent","y":"independent"}},
   "layer":[
    {"data":{"values":[{}]},"mark":{"type":"rule","strokeDash":[6,4],"color":"#8c8c8c","strokeWidth":1.5},"encoding":{"y":{"datum":0,"type":"quantitative","scale":{"domain":[-2,3],"nice":false,"zero":false},"axis":{"orient":"right","domain":false,"ticks":false,"labels":false,"title":"UNSEEN","titleFontSize":19,"titleAngle":0,"titleAlign":"center","titleBaseline":"alphabetic","titleX":-161.3,"titleY":-32.7}}}},
    {"data":{"values":[{}]},"mark":{"type":"rule","strokeDash":[6,4],"color":"#8c8c8c","strokeWidth":1.5},"encoding":{"x":{"datum":0,"type":"quantitative","scale":{"domain":[-200,600],"nice":false,"zero":false},"axis":{"orient":"top","domain":false,"ticks":false,"labels":false,"title":"B","titleFontSize":22,"titleAngle":0,"titleAlign":"left","titleBaseline":"alphabetic","titleX":-63.5,"titleY":-28.5}}}},
    {"transform":[{"filter":"datum.p==='B'"}],"mark":{"type":"line","strokeWidth":2,"interpolate":"monotone"},
     "encoding":{"x":{"field":"t","type":"quantitative","scale":{"domain":[-200,600],"nice":false,"zero":false},"axis":null},
      "y":{"field":"v","type":"quantitative","scale":{"domain":[-2,3],"nice":false,"zero":false},"axis":{"values":[-2,0,2],"labels":false,"title":"Error (µV)","titleAngle":0,"titleAlign":"center","titleBaseline":"alphabetic","titleX":7,"titleY":-11}},
      "color":{"field":"s","type":"nominal","title":"SOA","scale":{"domain":["100 ms","66 ms","50 ms","33 ms","16 ms"],"range":["#1f1fdc","#1c9ff0","#1b8c5a","#f7c400","#f0161a"]},"legend":{"legendX":307,"legendY":171}}}}
   ]}
 ],"spacing":107,"bounds":"flush"},
 {"hconcat":[
  {"width":297,"height":120,"resolve":{"scale":{"x":"independent","y":"independent"}},
   "layer":[
    {"data":{"values":[{}]},"mark":{"type":"rule","strokeDash":[6,4],"color":"#8c8c8c","strokeWidth":1.5},"encoding":{"y":{"datum":0,"type":"quantitative","scale":{"domain":[-2,3],"nice":false,"zero":false},"axis":null}}},
    {"data":{"values":[{}]},"mark":{"type":"rule","strokeDash":[6,4],"color":"#8c8c8c","strokeWidth":1.5},"encoding":{"x":{"datum":0,"type":"quantitative","scale":{"domain":[-200,600],"nice":false,"zero":false},"axis":{"orient":"top","domain":false,"ticks":false,"labels":false,"title":"C","titleFontSize":22,"titleAngle":0,"titleAlign":"left","titleBaseline":"alphabetic","titleX":-63.5,"titleY":-28.5}}}},
    {"transform":[{"filter":"datum.p==='C'"}],"mark":{"type":"line","strokeWidth":2,"interpolate":"monotone"},
     "encoding":{"x":{"field":"t","type":"quantitative","scale":{"domain":[-200,600],"nice":false,"zero":false},"axis":null},
      "y":{"field":"v","type":"quantitative","scale":{"domain":[-2,3],"nice":false,"zero":false},"axis":{"values":[-2,0,2],"title":"Correct (µV)","titleAngle":0,"titleAlign":"center","titleBaseline":"alphabetic","titleX":4,"titleY":-6}},
      "color":{"field":"s","type":"nominal","title":"SOA","scale":{"domain":["100 ms","66 ms","50 ms","33 ms","16 ms"],"range":["#1f1fdc","#1c9ff0","#1b8c5a","#f7c400","#f0161a"]},"legend":{"legendX":307,"legendY":171}}}}
   ]},
  {"width":297,"height":120,"resolve":{"scale":{"x":"independent","y":"independent"}},
   "layer":[
    {"data":{"values":[{}]},"mark":{"type":"rule","strokeDash":[6,4],"color":"#8c8c8c","strokeWidth":1.5},"encoding":{"y":{"datum":0,"type":"quantitative","scale":{"domain":[-2,3],"nice":false,"zero":false},"axis":null}}},
    {"data":{"values":[{}]},"mark":{"type":"rule","strokeDash":[6,4],"color":"#8c8c8c","strokeWidth":1.5},"encoding":{"x":{"datum":0,"type":"quantitative","scale":{"domain":[-200,600],"nice":false,"zero":false},"axis":{"orient":"top","domain":false,"ticks":false,"labels":false,"title":"D","titleFontSize":22,"titleAngle":0,"titleAlign":"left","titleBaseline":"alphabetic","titleX":-63.5,"titleY":-28.5}}}},
    {"transform":[{"filter":"datum.p==='D'"}],"mark":{"type":"line","strokeWidth":2,"interpolate":"monotone"},
     "encoding":{"x":{"field":"t","type":"quantitative","scale":{"domain":[-200,600],"nice":false,"zero":false},"axis":null},
      "y":{"field":"v","type":"quantitative","scale":{"domain":[-2,3],"nice":false,"zero":false},"axis":{"values":[-2,0,2],"labels":false,"title":"Correct (µV)","titleAngle":0,"titleAlign":"center","titleBaseline":"alphabetic","titleX":5,"titleY":-6}},
      "color":{"field":"s","type":"nominal","title":"SOA","scale":{"domain":["100 ms","66 ms","50 ms","33 ms","16 ms"],"range":["#1f1fdc","#1c9ff0","#1b8c5a","#f7c400","#f0161a"]},"legend":{"legendX":307,"legendY":171}}}}
   ]}
 ],"spacing":107,"bounds":"flush"}
]},
{"hconcat":[
  {"width":297,"height":120,"resolve":{"scale":{"x":"independent","y":"independent"}},
   "layer":[
    {"data":{"values":[{}]},"mark":{"type":"rule","strokeDash":[6,4],"color":"#8c8c8c","strokeWidth":1.5},"encoding":{"y":{"datum":0,"type":"quantitative","scale":{"domain":[-3,2],"nice":false,"zero":false},"axis":{"orient":"right","domain":false,"ticks":false,"labels":false,"title":"µV","titleFontSize":14.5,"titleAngle":270,"titleAlign":"center","titleBaseline":"alphabetic","titleX":-322.5,"titleY":48}}}},
    {"data":{"values":[{}]},"mark":{"type":"rule","strokeDash":[6,4],"color":"#8c8c8c","strokeWidth":1.5},"encoding":{"x":{"datum":0,"type":"quantitative","scale":{"domain":[-200,600],"nice":false,"zero":false},"axis":{"orient":"top","domain":false,"ticks":false,"labels":false,"title":"E","titleFontSize":22,"titleAngle":0,"titleAlign":"left","titleBaseline":"alphabetic","titleX":-63.5,"titleY":-44}}}},
    {"transform":[{"filter":"datum.p==='E'"}],"mark":{"type":"line","strokeWidth":2,"interpolate":"monotone"},
     "encoding":{"x":{"field":"t","type":"quantitative","scale":{"domain":[-200,600],"nice":false,"zero":false},"axis":{"values":[-200,0,200,400,600],"labelPadding":6.5,"title":["Time after","key press (ms)"],"titleFontSize":15,"titleBaseline":"alphabetic","titleY":28.5,"titleLineHeight":17}},
      "y":{"field":"v","type":"quantitative","scale":{"domain":[-3,2],"nice":false,"zero":false},"axis":{"orient":"left","values":[-2,0,2],"title":["Error - Correct","(µV)"],"titleAngle":0,"titleAlign":"center","titleBaseline":"alphabetic","titleX":12.5,"titleY":-26,"titleLineHeight":20.5}},
      "color":{"field":"s","type":"nominal","title":"SOA","scale":{"domain":["100 ms","66 ms","50 ms","33 ms","16 ms"],"range":["#1f1fdc","#1c9ff0","#1b8c5a","#f7c400","#f0161a"]},"legend":{"legendX":307,"legendY":171}}}}
   ]},
  {"width":297,"height":120,"resolve":{"scale":{"x":"independent","y":"independent"}},
   "layer":[
    {"data":{"values":[{}]},"mark":{"type":"rule","strokeDash":[6,4],"color":"#8c8c8c","strokeWidth":1.5},"encoding":{"y":{"datum":0,"type":"quantitative","scale":{"domain":[-3,2],"nice":false,"zero":false},"axis":null}}},
    {"data":{"values":[{}]},"mark":{"type":"rule","strokeDash":[6,4],"color":"#8c8c8c","strokeWidth":1.5},"encoding":{"x":{"datum":0,"type":"quantitative","scale":{"domain":[-200,600],"nice":false,"zero":false},"axis":{"orient":"top","domain":false,"ticks":false,"labels":false,"title":"F","titleFontSize":22,"titleAngle":0,"titleAlign":"left","titleBaseline":"alphabetic","titleX":-63.5,"titleY":-43.3}}}},
    {"transform":[{"filter":"datum.p==='F'"}],"mark":{"type":"line","strokeWidth":2,"interpolate":"monotone"},
     "encoding":{"x":{"field":"t","type":"quantitative","scale":{"domain":[-200,600],"nice":false,"zero":false},"axis":{"values":[-200,0,200,400,600],"labelPadding":6.5,"title":["Time after","key press (ms)"],"titleFontSize":15,"titleBaseline":"alphabetic","titleY":28.5,"titleLineHeight":17}},
      "y":{"field":"v","type":"quantitative","scale":{"domain":[-3,2],"nice":false,"zero":false},"axis":{"values":[-2,0,2],"labels":false,"title":["Error - Correct","(µV)"],"titleAngle":0,"titleAlign":"center","titleBaseline":"alphabetic","titleX":13.7,"titleY":-26,"titleLineHeight":20.5}},
      "color":{"field":"s","type":"nominal","title":"SOA","scale":{"domain":["100 ms","66 ms","50 ms","33 ms","16 ms"],"range":["#1f1fdc","#1c9ff0","#1b8c5a","#f7c400","#f0161a"]},"legend":{"legendX":307,"legendY":171}}}}
   ]}
 ],"spacing":107,"bounds":"flush"}
]
}
